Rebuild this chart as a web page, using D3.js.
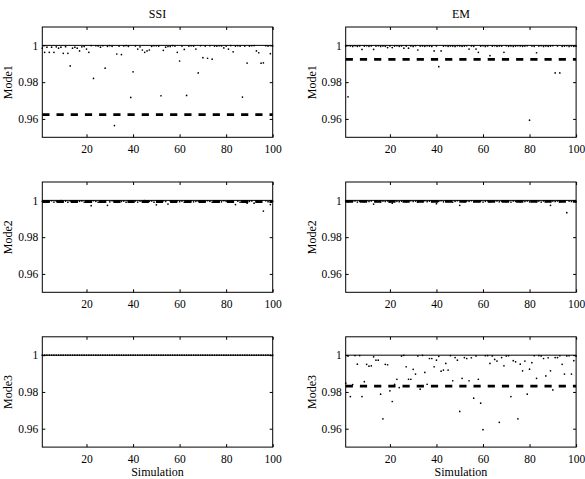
<!DOCTYPE html>
<html>
<head>
<meta charset="utf-8">
<script src="https://cdn.jsdelivr.net/npm/d3@7"></script>
<style>
  body { margin: 0; background: #fff; }
  .tick line { stroke: #000; }
  .domain { display: none; }
</style>
</head>
<body>
<div id="chart"></div>
<script>
///// DATA
const methods = ['SSI', 'EM'];
const modes = ['Mode1', 'Mode2', 'Mode3'];
const simulation = d3.range(1, 101); // simulation number 1..100
const xTicks = [20, 40, 60, 80, 100];
const yTicks = [0.96, 0.98, 1];

const ssiMode1 = [
  0.9985, 0.9962, 0.9990, 0.9962, 0.9990, 0.9962, 0.9992, 0.9985, 0.9990, 0.9957,
  0.9993, 0.9957, 0.9888, 0.9985, 0.9990, 0.9985, 0.9970, 0.9992, 0.9994, 0.9980,
  0.9962, 0.9999, 0.9820, 0.9998, 0.9997, 0.9990, 0.9998, 0.9876, 0.9995, 0.9999,
  0.9995, 0.9564, 0.9953, 0.9996, 0.9950, 0.9997, 0.9999, 0.9995, 0.9717, 0.9856,
  0.9997, 0.9980, 0.9992, 0.9975, 0.9962, 0.9970, 0.9975, 0.9995, 0.9998, 0.9998,
  0.9996, 0.9726, 0.9973, 0.9990, 0.9994, 0.9994, 0.9999, 0.9996, 0.9962, 0.9915,
  0.9996, 0.9978, 0.9728, 0.9996, 0.9998, 0.9996, 0.9980, 0.9850, 0.9998, 0.9933,
  0.9996, 0.9930, 0.9998, 0.9925, 0.9996, 0.9996, 0.9998, 0.9997, 0.9986, 0.9996,
  0.9980, 0.9999, 0.9965, 0.9996, 0.9998, 0.9996, 0.9719, 0.9996, 0.9904, 0.9996,
  0.9998, 0.9999, 0.9970, 0.9960, 0.9903, 0.9905, 0.9998, 0.9996, 0.9955, 0.9998
];
const emMode1 = [
  0.9996, 0.9720, 0.9997, 0.9994, 0.9998, 0.9995, 0.9997, 0.9978, 0.9996, 0.9998,
  0.9995, 0.9997, 0.9978, 0.9996, 0.9998, 0.9994, 0.9997, 0.9995, 0.9988, 0.9997,
  0.9988, 0.9996, 0.9998, 0.9995, 0.9997, 0.9985, 0.9996, 0.9985, 0.9997, 0.9994,
  0.9998, 0.9975, 0.9996, 0.9997, 0.9995, 0.9998, 0.9996, 0.9994, 0.9970, 0.9997,
  0.9884, 0.9970, 0.9996, 0.9998, 0.9995, 0.9997, 0.9996, 0.9994, 0.9998, 0.9997,
  0.9995, 0.9996, 0.9998, 0.9980, 0.9997, 0.9995, 0.9980, 0.9962, 0.9996, 0.9998,
  0.9994, 0.9997, 0.9944, 0.9996, 0.9998, 0.9995, 0.9997, 0.9996, 0.9962, 0.9998,
  0.9995, 0.9997, 0.9994, 0.9996, 0.9998, 0.9997, 0.9995, 0.9996, 0.9998, 0.9593,
  0.9997, 0.9995, 0.9960, 0.9996, 0.9998, 0.9994, 0.9997, 0.9995, 0.9996, 0.9998,
  0.9850, 0.9997, 0.9850, 0.9995, 0.9996, 0.9998, 0.9994, 0.9997, 0.9995, 0.9996
];
const ssiMode2 = [
  0.9995, 0.9990, 0.9997, 0.9993, 0.9998, 0.9991, 0.9996, 0.9994, 0.9999, 0.9992,
  0.9996, 0.9990, 0.9997, 0.9994, 0.9998, 0.9992, 0.9995, 0.9997, 0.9991, 0.9996,
  0.9993, 0.9971, 0.9998, 0.9995, 0.9990, 0.9997, 0.9994, 0.9996, 0.9973, 0.9992,
  0.9998, 0.9995, 0.9991, 0.9997, 0.9994, 0.9996, 0.9990, 0.9998, 0.9993, 0.9995,
  0.9997, 0.9991, 0.9996, 0.9994, 0.9999, 0.9992, 0.9995, 0.9997, 0.9990, 0.9976,
  0.9996, 0.9993, 0.9998, 0.9994, 0.9980, 0.9997, 0.9991, 0.9995, 0.9998, 0.9993,
  0.9996, 0.9990, 0.9997, 0.9994, 0.9998, 0.9992, 0.9995, 0.9997, 0.9991, 0.9996,
  0.9993, 0.9998, 0.9995, 0.9990, 0.9997, 0.9994, 0.9996, 0.9992, 0.9998, 0.9995,
  0.9991, 0.9997, 0.9994, 0.9977, 0.9996, 0.9990, 0.9998, 0.9993, 0.9985, 0.9995,
  0.9997, 0.9985, 0.9994, 0.9996, 0.9991, 0.9942, 0.9998, 0.9993, 0.9977, 0.9995
];
const emMode2 = [
  0.9996, 0.9992, 0.9998, 0.9994, 0.9997, 0.9991, 0.9995, 0.9998, 0.9993, 0.9996,
  0.9994, 0.9997, 0.9980, 0.9995, 0.9998, 0.9992, 0.9996, 0.9994, 0.9997, 0.9991,
  0.9985, 0.9998, 0.9995, 0.9993, 0.9996, 0.9997, 0.9992, 0.9995, 0.9998, 0.9994,
  0.9996, 0.9991, 0.9997, 0.9995, 0.9998, 0.9993, 0.9996, 0.9994, 0.9997, 0.9982,
  0.9995, 0.9998, 0.9992, 0.9996, 0.9994, 0.9997, 0.9991, 0.9995, 0.9998, 0.9973,
  0.9996, 0.9993, 0.9997, 0.9995, 0.9998, 0.9992, 0.9996, 0.9994, 0.9997, 0.9991,
  0.9995, 0.9998, 0.9993, 0.9996, 0.9994, 0.9997, 0.9992, 0.9995, 0.9998, 0.9994,
  0.9996, 0.9991, 0.9997, 0.9995, 0.9998, 0.9993, 0.9996, 0.9994, 0.9997, 0.9992,
  0.9995, 0.9998, 0.9994, 0.9996, 0.9991, 0.9997, 0.9995, 0.9998, 0.9973, 0.9996,
  0.9994, 0.9997, 0.9992, 0.9995, 0.9998, 0.9933, 0.9996, 0.9994, 0.9997, 0.9993
];
const ssiMode3 = [
  1, 1, 1, 1, 1, 1, 1, 1, 1, 1,
  1, 1, 1, 1, 1, 1, 1, 1, 1, 1,
  1, 1, 1, 1, 1, 1, 1, 1, 1, 1,
  1, 1, 1, 1, 1, 1, 1, 1, 1, 1,
  1, 1, 1, 1, 1, 1, 1, 1, 1, 1,
  1, 1, 1, 1, 1, 1, 1, 1, 1, 1,
  1, 1, 1, 1, 1, 1, 1, 1, 1, 1,
  1, 1, 1, 1, 1, 1, 1, 1, 1, 1,
  1, 1, 1, 1, 1, 1, 1, 1, 1, 1,
  1, 1, 1, 1, 1, 1, 1, 1, 1, 1
];
const emMode3 = [
  0.9848, 0.9995, 0.9775, 0.9840, 0.9998, 0.9951, 0.9998, 0.9775, 0.9856, 0.9950,
  0.9940, 0.9942, 0.9991, 0.9973, 0.9973, 0.9788, 0.9654, 0.9950, 0.9948, 0.9806,
  0.9748, 0.9842, 0.9869, 0.9824, 0.9995, 0.9999, 0.9937, 0.9869, 0.9869, 0.9923,
  0.9897, 0.9996, 0.9815, 0.9999, 0.9906, 0.9842, 0.9982, 0.9982, 0.9937, 0.9973,
  0.9994, 0.9913, 0.9919, 0.9955, 0.9919, 0.9998, 0.9861, 0.9987, 0.9973, 0.9694,
  0.9874, 0.9987, 0.9982, 0.9861, 0.9986, 0.9766, 0.9996, 0.9869, 0.9739, 0.9595,
  0.9997, 0.9998, 0.9955, 0.9996, 0.9977, 0.9968, 0.9635, 0.9987, 0.9942, 0.9996,
  0.9997, 0.9775, 0.9970, 0.9964, 0.9654, 0.9951, 0.9915, 0.9968, 0.9788, 0.9924,
  0.9959, 0.9997, 0.9874, 0.9998, 0.9996, 0.9982, 0.9887, 0.9986, 0.9915, 0.9811,
  0.9987, 0.9987, 0.9997, 0.9950, 0.9897, 0.9996, 0.9997, 0.9897, 0.9970, 0.9996
];

// dashed reference level per panel (null = not drawn)
const ssiLevels = [0.9623, 0.9994, null];
const emLevels = [0.9924, 0.9995, 0.9832];
const refLevel = 1; // solid line

const series = {
  SSI: [ssiMode1, ssiMode2, ssiMode3],
  EM: [emMode1, emMode2, emMode3]
};
const levels = { SSI: ssiLevels, EM: emLevels };

///// LAYOUT
const WIDTH = 585, HEIGHT = 479;
const FONT = "'Liberation Serif', 'Times New Roman', 'DejaVu Serif', serif";
const colX = [42.3, 345.7];
const rowY = [27, 182, 336.8];
const PW = 230.4, PH = 110.3;

const svg = d3.select('#chart').append('svg')
  .attr('width', WIDTH)
  .attr('height', HEIGHT)
  .attr('font-family', FONT);

// SCALES (shared by all panels)
const x = d3.scaleLinear().domain([1, 100]).range([0, PW]);
const y = d3.scaleLinear().domain([0.95, 1.01]).range([PH, 0]);

methods.forEach((method, c) => {
  modes.forEach((mode, r) => {
    const g = svg.append('g')
      .attr('transform', `translate(${colX[c]},${rowY[r]})`);
    const values = series[method][r];

    // AXES, ticks pointing inwards on all four sides
    const axes = [
      g.append('g')
        .attr('transform', `translate(0,${PH})`)
        .call(d3.axisBottom(x).tickValues(xTicks).tickSize(-3).tickPadding(8)),
      g.append('g')
        .call(d3.axisTop(x).tickValues(xTicks).tickSize(-3).tickFormat('')),
      g.append('g')
        .call(d3.axisLeft(y).tickValues(yTicks).tickSize(-3).tickPadding(4)
          .tickFormat(d => d === 1 ? '1' : d3.format('.2f')(d))),
      g.append('g')
        .attr('transform', `translate(${PW},0)`)
        .call(d3.axisRight(y).tickValues(yTicks).tickSize(-3).tickFormat(''))
    ];
    axes.forEach(a => a.attr('font-family', FONT).attr('font-size', 11.5));

    // SOLID LINE AT 1
    g.append('line')
      .attr('x1', 0).attr('x2', PW)
      .attr('y1', y(refLevel)).attr('y2', y(refLevel))
      .attr('stroke', '#000')
      .attr('stroke-width', 1);

    // DASHED LEVEL
    const lvl = levels[method][r];
    if (lvl !== null) {
      g.append('line')
        .attr('x1', 0).attr('x2', PW)
        .attr('y1', y(lvl)).attr('y2', y(lvl))
        .attr('stroke', '#000')
        .attr('stroke-width', 2.8)
        .attr('stroke-dasharray', '7.2,7');
    }

    // POINTS
    g.selectAll('.pt')
      .data(values)
      .enter()
      .append('circle')
      .attr('class', 'pt')
      .attr('cx', (d, i) => x(simulation[i]))
      .attr('cy', d => y(d))
      .attr('r', 0.85)
      .attr('fill', '#000');

    // FRAME
    g.append('rect')
      .attr('width', PW).attr('height', PH)
      .attr('fill', 'none')
      .attr('stroke', '#000')
      .attr('stroke-width', 1);

    // Y LABEL
    g.append('text')
      .attr('transform', `translate(-30,${PH / 2}) rotate(-90)`)
      .attr('text-anchor', 'middle')
      .attr('font-size', 12)
      .text(mode);

    // TITLE / X LABEL
    if (r === 0) {
      g.append('text')
        .attr('x', PW / 2).attr('y', -9)
        .attr('text-anchor', 'middle')
        .attr('font-size', 12)
        .text(method);
    }
    if (r === modes.length - 1) {
      g.append('text')
        .attr('x', PW / 2).attr('y', PH + 29)
        .attr('text-anchor', 'middle')
        .attr('font-size', 12)
        .text('Simulation');
    }
  });
});
</script>
</body>
</html>
